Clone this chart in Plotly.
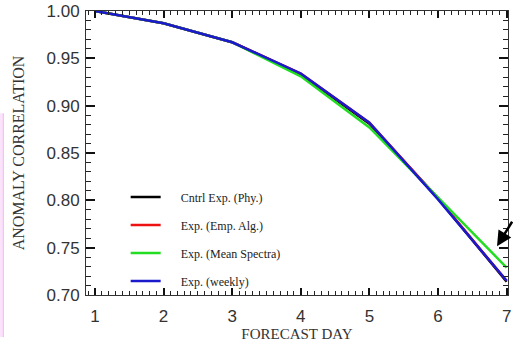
import plotly.graph_objects as go

days = [1, 2, 3, 4, 5, 6, 7]
series_names = ["Cntrl Exp. (Phy.)", "Exp. (Emp. Alg.)", "Exp. (Mean Spectra)", "Exp. (weekly)"]
series_colors = ["#000000", "#ee1111", "#22dd22", "#1a1acc"]
cntrl_phy = [1.000, 0.987, 0.967, 0.933, 0.881, 0.802, 0.714]
emp_alg = [1.000, 0.987, 0.967, 0.934, 0.882, 0.802, 0.715]
mean_spectra = [1.000, 0.987, 0.967, 0.931, 0.877, 0.803, 0.729]
weekly = [1.000, 0.987, 0.967, 0.934, 0.882, 0.801, 0.715]

fig = go.Figure()
for i, (name, color, vals) in enumerate(zip(series_names, series_colors,
                                             [cntrl_phy, emp_alg, mean_spectra, weekly])):
    fig.add_trace(go.Scatter(
        x=days, y=vals, mode="lines", name="\u00a0\u00a0\u00a0\u00a0\u00a0" + name,
        line=dict(color=color, width=2.5), legendgroup=str(i),
    ))

axis_col = "#333333"
serif = "Liberation Serif, Times New Roman, serif"
sans = "Liberation Sans, Arial, sans-serif"

fig.update_layout(
    width=513, height=346,
    margin=dict(l=86, r=5, t=11, b=51),
    paper_bgcolor="white", plot_bgcolor="white",
    showlegend=True,
    legend=dict(x=0.094, y=0.396, xanchor="left", yanchor="top",
                bgcolor="rgba(0,0,0,0)", font=dict(family=serif, size=12, color="#222"),
                tracegroupgap=9, traceorder="grouped"),
    xaxis=dict(range=[0.87, 7.02], tickmode="linear", tick0=1, dtick=1,
               showgrid=False, zeroline=False, showline=True, linecolor=axis_col, linewidth=1,
               mirror="allticks", ticks="inside", ticklen=7, tickwidth=1.5, tickcolor="#111111",
               automargin=False, ticklabelstandoff=6, layer="above traces",
               tickfont=dict(family=sans, size=17, color="#333"),
               minor=dict(ticks="inside", dtick=0.1, ticklen=4, tickwidth=1.2, tickcolor="#222222"),
               title=dict(text="FORECAST DAY", font=dict(family=serif, size=15, color="#333"), standoff=3)),
    yaxis=dict(range=[0.70, 1.00], tickmode="linear", tick0=0.7, dtick=0.05, tickformat=".2f",
               showgrid=False, zeroline=False, showline=True, linecolor=axis_col, linewidth=1,
               mirror="allticks", ticks="inside", ticklen=9, tickwidth=1.5, tickcolor="#111111",
               automargin=False, ticklabelstandoff=2, layer="above traces",
               tickfont=dict(family=sans, size=17, color="#333"),
               minor=dict(ticks="inside", dtick=0.01, ticklen=5, tickwidth=1.2, tickcolor="#222222"),
               title=dict(text="ANOMALY CORRELATION", font=dict(family=serif, size=16, color="#333"), standoff=17)),
)

# arrow pointing at the day-7 divergence
fig.add_annotation(x=6.86, y=0.7515, xref="x", yref="y", ax=22, ay=-26, text="",
                   showarrow=True, arrowhead=2, arrowsize=1.2, arrowwidth=2.5, arrowcolor="black")

# pink slide border at left edge
fig.add_shape(type="rect", xref="paper", yref="paper", x0=-0.204, x1=-0.196, y0=-0.148, y1=0.64,
              fillcolor="#fbe4fb", line=dict(width=0))
fig.add_shape(type="line", xref="paper", yref="paper", x0=-0.196, x1=-0.196, y0=-0.148, y1=0.64,
              line=dict(color="#f0b4f0", width=1))

fig.write_html("out.html", config={"displayModeBar": False},
               post_script="document.body.style.margin='0';")
